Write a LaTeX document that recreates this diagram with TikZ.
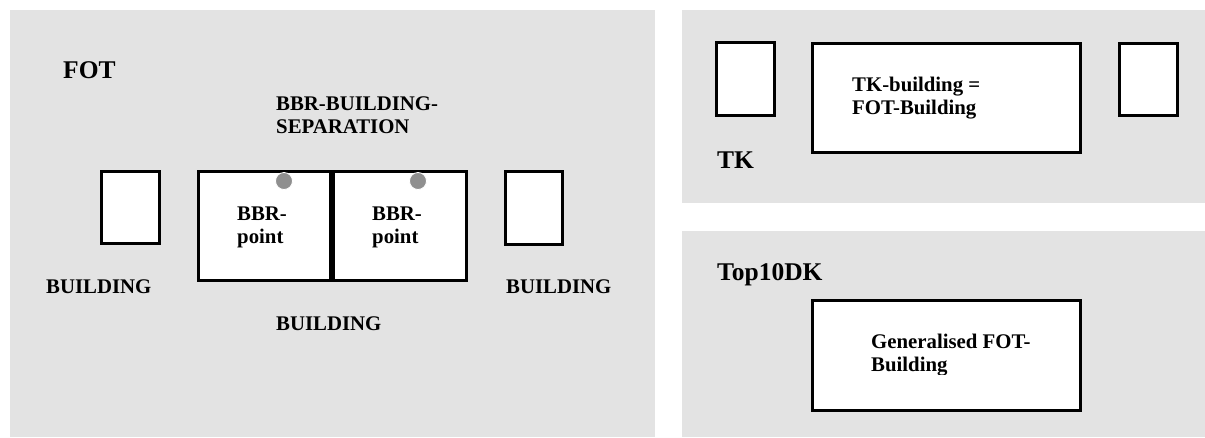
\documentclass[tikz,border=0pt]{standalone}
\usepackage{fontspec}
\setmainfont{Liberation Serif}
\definecolor{panelgray}{RGB}{227,227,227}
\definecolor{dotgray}{RGB}{143,143,143}
\tikzset{
  panel/.style={fill=panelgray},
  bldg/.style={draw=black, fill=white, line width=3pt, rectangle, inner sep=0pt},
  lbl/.style={anchor=base west, inner sep=0pt, align=left, font=\fontsize{20.8}{23.5}\selectfont\bfseries},
  ttl/.style={anchor=base west, inner sep=0pt, font=\fontsize{25.5}{30}\selectfont\bfseries},
  bbrdot/.style={circle, fill=dotgray, draw=white, line width=0.8pt, minimum size=17pt, inner sep=0pt},
}
\begin{document}
\begin{tikzpicture}[x=1pt,y=-1pt]
\useasboundingbox (0,0) rectangle (1205,437);
% panels
\fill[panel] (10,10) rectangle (655,437);
\fill[panel] (682,10) rectangle (1205,203);
\fill[panel] (682,231) rectangle (1205,437);

% FOT panel
\node[ttl] (fot) at (63,78) {FOT};
\node[lbl] (sep) at (276,133.5) {BBR-BUILDING-\\SEPARATION};
\node[bldg, minimum width=58pt, minimum height=72pt] (b1) at (130.5,207.5) {};
\node[bldg, minimum width=132pt, minimum height=109pt] (b2) at (264.5,226) {};
\node[bldg, minimum width=133pt, minimum height=109pt] (b3) at (400,226) {};
\node[bldg, minimum width=57pt, minimum height=73pt] (b4) at (534,208) {};
\node[bbrdot] (d1) at (284,181) {};
\node[bbrdot] (d2) at (418,181) {};
\node[lbl] (p1) at (237,243.5) {BBR-\\point};
\node[lbl] (p2) at (372,243.5) {BBR-\\point};
\node[lbl] (l1) at (46,293) {BUILDING};
\node[lbl] (l2) at (276,330) {BUILDING};
\node[lbl] (l3) at (506,293) {BUILDING};

% TK panel
\node[bldg, minimum width=58pt, minimum height=73pt] (t1) at (745.5,79) {};
\node[bldg, minimum width=268pt, minimum height=109pt] (t2) at (946.5,98) {};
\node[bldg, minimum width=58pt, minimum height=72pt] (t3) at (1148.5,79.5) {};
\node[lbl] (tkt) at (852,114.5) {TK-building =\\FOT-Building};
\node[ttl] (tk) at (717,168) {TK};

% Top10DK panel
\node[ttl] (top) at (717,280) {Top10DK};
\node[bldg, minimum width=268pt, minimum height=110pt] (g1) at (946.5,355.5) {};
\begin{scope}
\clip (812,300) rectangle (1080,374.5);
\node[lbl] (gt) at (871,371.5) {Generalised FOT-\\Building};
\end{scope}
\end{tikzpicture}
\end{document}
